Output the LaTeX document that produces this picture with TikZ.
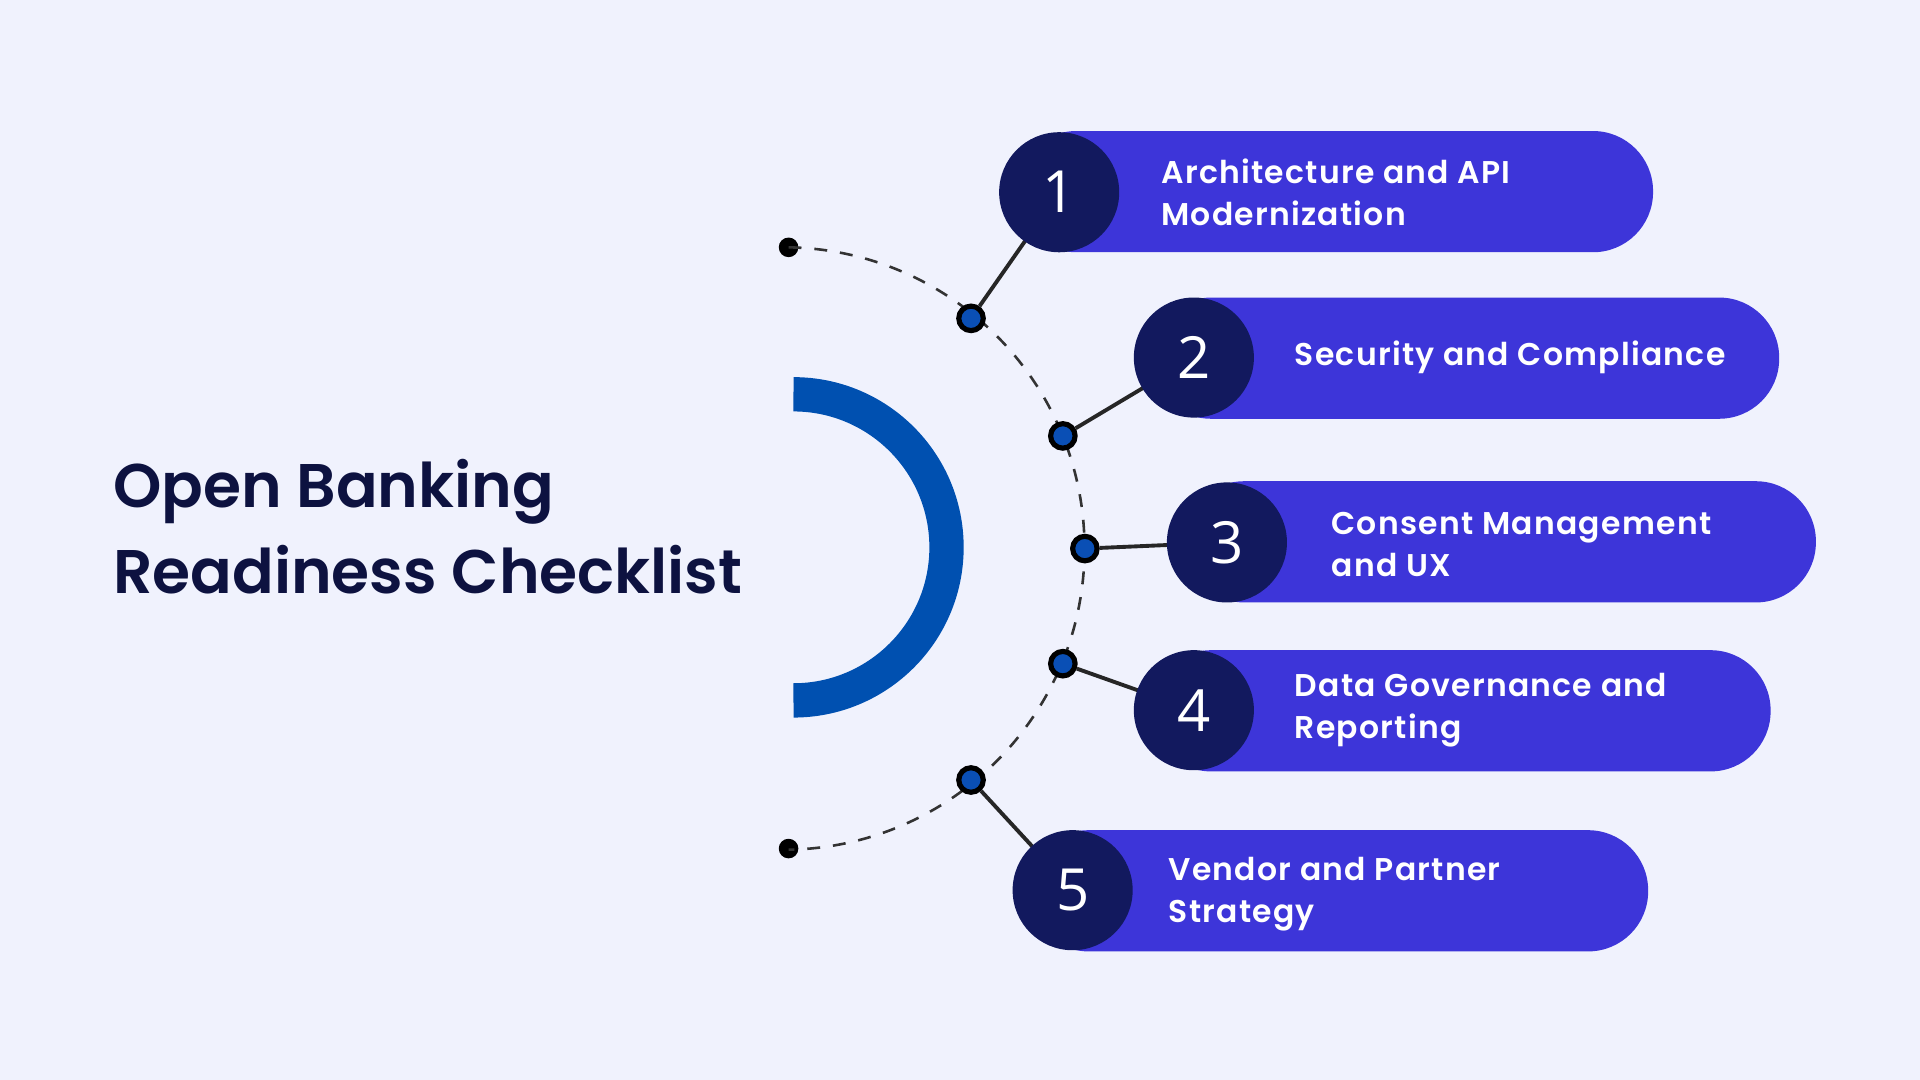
\documentclass[tikz,border=0pt]{standalone}
\usepackage{fontspec}
\setmainfont{Poppins}
\newfontfamily\semib{Poppins}[UprightFont=* SemiBold]
\newfontfamily\numfont{Open Sans}
\definecolor{bg}{HTML}{F0F2FD}
\definecolor{pill}{HTML}{3D35D9}
\definecolor{navy}{HTML}{12195E}
\definecolor{titlec}{HTML}{0D1240}
\definecolor{arcblue}{HTML}{0050B0}
\definecolor{dotblue}{HTML}{0A4FB5}
\begin{document}
\begin{tikzpicture}[x=0.01cm,y=-0.01cm,
  pillbox/.style={fill=pill,rounded corners=0.49cm},
  numcirc/.style={circle,fill=navy,minimum size=0.98cm,inner sep=0pt,text=white,font=\numfont\fontsize{13.5}{14}\selectfont},
  lab/.style={anchor=west,text=white,align=left,font=\semib\fontsize{7.3}{9.8}\selectfont\addfontfeature{LetterSpace=4}},
  hub/.style={circle,draw=black,line width=1.2pt,fill=dotblue,minimum size=0.2cm,inner sep=0pt},
  endpt/.style={circle,fill=black,minimum size=0.16cm,inner sep=0pt},
  conn/.style={line width=0.9pt,draw=black!85}]
\fill[bg] (0,0) rectangle (1568,882);
\useasboundingbox (0,0) rectangle (1568,882);
\node[anchor=west,text=titlec,align=left,font=\semib\fontsize{14.3}{20}\selectfont] (title) at (80,430) {Open Banking\\Readiness Checklist};
\draw[arcblue,line width=0.28cm] (648,322) arc[start angle=-90,end angle=90,radius=125];
\node[endpt] (e1) at (644,202) {};
\node[endpt] (e2) at (644,693) {};
\draw[dashed,line width=0.6pt,black!80] (e1.center) arc[start angle=-89,end angle=89,radius=246];
\fill[pillbox] (830,107) rectangle (1350,206);
\fill[pillbox] (940,243) rectangle (1453,342);
\fill[pillbox] (967,393) rectangle (1483,492);
\fill[pillbox] (940,531) rectangle (1446,630);
\fill[pillbox] (840,678) rectangle (1346,777);
\coordinate (n1) at (865,157);
\coordinate (n2) at (975,292);
\coordinate (n3) at (1002,443);
\coordinate (n4) at (975,580);
\coordinate (n5) at (876,727);
\node[hub] (h1) at (793,260) {};
\node[hub] (h2) at (868,356) {};
\node[hub] (h3) at (886,448) {};
\node[hub] (h4) at (868,542) {};
\node[hub] (h5) at (793,637) {};
\draw[conn] (h1) -- (n1);
\draw[conn] (h2) -- (n2);
\draw[conn] (h3) -- (n3);
\draw[conn] (h4) -- (n4);
\draw[conn] (h5) -- (n5);
\node[numcirc] (c1) at (n1) {1};
\node[numcirc] (c2) at (n2) {2};
\node[numcirc] (c3) at (n3) {3};
\node[numcirc] (c4) at (n4) {4};
\node[numcirc] (c5) at (n5) {5};
\node[lab] (l1) at (936,157) {Architecture and API\\Modernization};
\node[lab] (l2) at (1045,292) {Security and Compliance};
\node[lab] (l3) at (1075,445) {Consent Management\\and UX};
\node[lab] (l4) at (1045,580) {Data Governance and\\Reporting};
\node[lab] (l5) at (942,730) {Vendor and Partner\\Strategy};
\end{tikzpicture}
\end{document}
